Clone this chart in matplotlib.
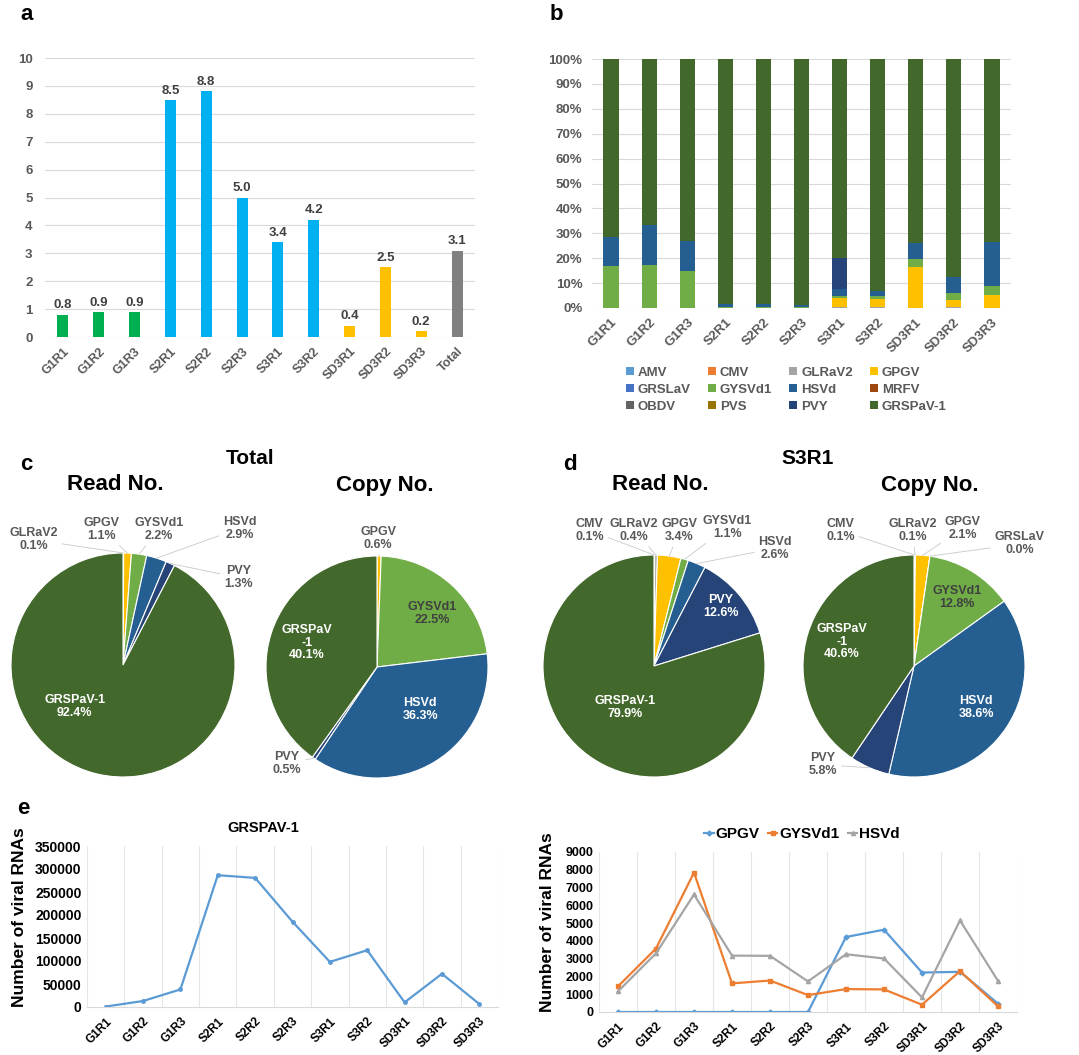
import matplotlib as mpl
mpl.use('Agg')
import numpy as np
import matplotlib.pyplot as plt

plt.rcParams['font.family'] = ['Liberation Sans', 'DejaVu Sans']
plt.rcParams['font.weight'] = 'bold'
plt.rcParams['axes.titleweight'] = 'bold'
plt.rcParams['axes.labelweight'] = 'bold'

# ---- data ----
samples = ['G1R1', 'G1R2', 'G1R3', 'S2R1', 'S2R2', 'S2R3',
           'S3R1', 'S3R2', 'SD3R1', 'SD3R2', 'SD3R3']

# (a) ratio per sample
ratio_labels = samples + ['Total']
ratio_values = [0.8, 0.9, 0.9, 8.5, 8.8, 5.0, 3.4, 4.2, 0.4, 2.5, 0.2, 3.1]

# (b) read share per virus (%)
viruses = ['AMV', 'CMV', 'GLRaV2', 'GPGV', 'GRSLaV', 'GYSVd1',
           'HSVd', 'MRFV', 'OBDV', 'PVS', 'PVY', 'GRSPaV-1']
pct_zero = [0] * 11
pct_cmv = [0, 0, 0, 0, 0, 0, 0.1, 0, 0, 0, 0]
pct_glrav2 = [0, 0, 0, 0, 0, 0, 0.4, 0.3, 0, 0.4, 0.2]
pct_gpgv = [0, 0, 0, 0, 0, 0, 3.4, 3.5, 16.5, 2.9, 5.0]
pct_gysvd1 = [17.0, 17.4, 14.7, 0.5, 0.5, 0.4, 1.1, 0.9, 3.3, 2.8, 3.5]
pct_hsvd = [11.5, 16.0, 12.2, 1.0, 1.0, 0.8, 2.6, 2.2, 6.5, 6.3, 18.0]
pct_pvy = [0, 0, 0, 0, 0, 0, 12.6, 0, 0, 0, 0]
pct_grspav = [71.5, 66.6, 73.1, 98.5, 98.5, 98.8, 79.8, 93.1, 73.7, 87.6, 73.3]

# (c) / (d) pies
total_read_names = ['GLRaV2', 'GPGV', 'GYSVd1', 'HSVd', 'PVY', 'GRSPaV-1']
total_read_pct = [0.1, 1.1, 2.2, 2.9, 1.3, 92.4]
total_copy_names = ['GPGV', 'GYSVd1', 'HSVd', 'PVY', 'GRSPaV-1']
total_copy_pct = [0.6, 22.5, 36.3, 0.5, 40.1]
s3r1_read_names = ['CMV', 'GLRaV2', 'GPGV', 'GYSVd1', 'HSVd', 'PVY', 'GRSPaV-1']
s3r1_read_pct = [0.1, 0.4, 3.4, 1.1, 2.6, 12.6, 79.9]
s3r1_copy_names = ['CMV', 'GLRaV2', 'GPGV', 'GRSLaV', 'GYSVd1', 'HSVd', 'PVY', 'GRSPaV-1']
s3r1_copy_pct = [0.1, 0.1, 2.1, 0.0, 12.8, 38.6, 5.8, 40.6]

# (e) number of viral RNAs
grspav_counts = [1000, 13000, 38200, 286500, 280700, 185400,
                 98100, 123400, 10100, 72200, 6500]
gpgv_counts = [0, 0, 0, 0, 0, 0, 4220, 4630, 2220, 2260, 470]
gysvd1_counts = [1440, 3570, 7840, 1610, 1770, 950, 1290, 1270, 410, 2300, 320]
hsvd_counts = [1160, 3300, 6610, 3170, 3160, 1720, 3250, 3010, 820, 5150, 1750]

colors = {'AMV': '#5B9BD5', 'CMV': '#ED7D31', 'GLRaV2': '#A5A5A5',
          'GPGV': '#FFC000', 'GRSLaV': '#4472C4', 'GYSVd1': '#70AD47',
          'HSVd': '#255E91', 'MRFV': '#9E480E', 'OBDV': '#636363',
          'PVS': '#997300', 'PVY': '#264478', 'GRSPaV-1': '#43682B'}

W, H = 1079, 1055
fig = plt.figure(figsize=(W / 100, H / 100), dpi=100)


def px_axes(x0, y0, x1, y1):
    return fig.add_axes([x0 / W, 1 - y1 / H, (x1 - x0) / W, (y1 - y0) / H])


def clean(ax):
    for s in ax.spines.values():
        s.set_visible(False)
    ax.tick_params(length=0)


GRID = '#D9D9D9'
TICK = '#595959'

# ---- a: bar chart ----
ax = px_axes(45, 58, 475, 337)
clean(ax)
bar_colors = ['#00B050'] * 3 + ['#00B0F0'] * 5 + ['#FFC000'] * 3 + ['#808080']
x = np.arange(len(ratio_labels))
ax.bar(x, ratio_values, width=0.31, color=bar_colors, zorder=3)
for i, v in enumerate(ratio_values):
    ax.text(i, v + 0.12, f'{v:.1f}', ha='center', va='bottom',
            fontsize=9.5, color='#404040')
ax.set_ylim(0, 10)
ax.set_xlim(-0.5, len(ratio_labels) - 0.5)
ax.set_yticks(range(11))
ax.yaxis.grid(True, color=GRID, lw=0.8)
ax.set_axisbelow(True)
ax.set_xticks(x)
ax.set_xticklabels(ratio_labels, rotation=45, ha='right', rotation_mode='anchor')
ax.tick_params(axis='y', labelsize=9.5, labelcolor=TICK, pad=9)
ax.tick_params(axis='x', labelsize=9, labelcolor=TICK, pad=6)

# ---- b: stacked percentage bars ----
ax = px_axes(592, 59, 1011, 308)
clean(ax)
series = [pct_zero, pct_cmv, pct_glrav2, pct_gpgv, pct_zero, pct_gysvd1,
          pct_hsvd, pct_zero, pct_zero, pct_zero, pct_pvy, pct_grspav]
xb = np.arange(len(samples))
bottom = np.zeros(len(samples))
handles = []
for name, vals in zip(viruses, series):
    h = ax.bar(xb, vals, bottom=bottom, width=0.4, color=colors[name],
               label=name, zorder=3)
    handles.append(h)
    bottom += np.array(vals)
ax.set_ylim(0, 100)
ax.set_xlim(-0.5, len(samples) - 0.5)
ax.set_yticks(range(0, 101, 10))
ax.set_yticklabels([f'{t}%' for t in range(0, 101, 10)])
ax.yaxis.grid(True, color=GRID, lw=0.8)
ax.set_axisbelow(True)
ax.set_xticks(xb)
ax.set_xticklabels(samples, rotation=45, ha='right', rotation_mode='anchor')
ax.tick_params(axis='y', labelsize=9.5, labelcolor=TICK, pad=7)
ax.tick_params(axis='x', labelsize=9.5, labelcolor=TICK, pad=6)
order = [0, 4, 8, 1, 5, 9, 2, 6, 10, 3, 7, 11]
fig.legend([handles[i] for i in order], [viruses[i] for i in order],
           ncol=4, frameon=False, loc='upper left',
           bbox_to_anchor=(614 / W, 1 - 355 / H), fontsize=9.5,
           handlelength=0.6, handleheight=0.6, handletextpad=0.3,
           columnspacing=1.3, labelspacing=0.38, labelcolor=TICK)


# ---- c / d: pies ----
def draw_pie(cx, cy, r, names, pct, spots, wrap=False):
    ax = px_axes(cx - r, cy - r, cx + r, cy + r)
    wedges, _ = ax.pie(pct, colors=[colors[n] for n in names], startangle=90,
                       counterclock=False,
                       wedgeprops=dict(edgecolor='white', linewidth=0.8))
    ax.set_xlim(-1, 1)
    ax.set_ylim(-1, 1)
    ax.axis('off')
    for w, n, p, (dx, dy, kind) in zip(wedges, names, pct, spots):
        label = n
        if wrap and n == 'GRSPaV-1':
            label = 'GRSPaV\n-1'
        label = f'{label}\n{p:.1f}%'
        if kind == 'out':
            ang = np.deg2rad((w.theta1 + w.theta2) / 2)
            ax.annotate(label, xy=(np.cos(ang), np.sin(ang)), xytext=(dx, dy),
                        ha='center', va='center', fontsize=9, color=TICK,
                        linespacing=1.1, annotation_clip=False,
                        arrowprops=dict(arrowstyle='-', color='#C8C8C8',
                                        lw=0.6, shrinkA=1, shrinkB=0))
        else:
            ax.text(dx, dy, label, ha='center', va='center', fontsize=9,
                    color=kind, linespacing=1.1)


draw_pie(123, 665, 112, total_read_names, total_read_pct,
         [(-0.80, 1.12, 'out'), (-0.19, 1.21, 'out'), (0.32, 1.21, 'out'),
          (1.04, 1.22, 'out'), (1.03, 0.78, 'out'), (-0.43, -0.37, 'white')])
draw_pie(377, 667, 111, total_copy_names, total_copy_pct,
         [(0.01, 1.16, 'out'), (0.50, 0.48, '#404040'), (0.39, -0.38, 'white'),
          (-0.81, -0.87, 'out'), (-0.63, 0.22, 'white')], wrap=True)
draw_pie(654, 666, 111, s3r1_read_names, s3r1_read_pct,
         [(-0.58, 1.22, 'out'), (-0.18, 1.22, 'out'), (0.23, 1.22, 'out'),
          (0.66, 1.25, 'out'), (1.09, 1.06, 'out'), (0.60, 0.54, 'white'),
          (-0.26, -0.37, 'white')])
draw_pie(914, 666, 111, s3r1_copy_names, s3r1_copy_pct,
         [(-0.66, 1.22, 'out'), (-0.01, 1.22, 'out'), (0.44, 1.24, 'out'),
          (0.95, 1.10, 'out'), (0.39, 0.62, '#404040'), (0.56, -0.37, 'white'),
          (-0.82, -0.89, 'out'), (-0.65, 0.22, 'white')], wrap=True)

for txt, (px, py), size in [('Total', (250, 459), 15), ('Read No.', (115, 485), 16),
                            ('Copy No.', (385, 485), 16), ('S3R1', (808, 459), 15),
                            ('Read No.', (660, 485), 16), ('Copy No.', (930, 485), 16)]:
    fig.text(px / W, 1 - py / H, txt, ha='center', va='center', fontsize=size)


# ---- e: line charts ----
def line_axes(x0, y0, x1, y1, ymax, step, label_x):
    ax = px_axes(x0, y0, x1, y1)
    for s in ax.spines.values():
        s.set_visible(False)
    ax.spines['bottom'].set_visible(True)
    ax.spines['bottom'].set_color(GRID)
    ax.tick_params(length=0, which='both')
    ax.set_xlim(-0.5, len(samples) - 0.5)
    ax.set_ylim(0, ymax)
    ax.set_yticks(np.arange(0, ymax + 1, step))
    ax.set_xticks(np.arange(len(samples)))
    ax.set_xticks(np.arange(-0.5, len(samples), 1), minor=True)
    ax.xaxis.grid(True, which='minor', color='#E6E6E6', lw=0.8)
    ax.set_xticklabels(samples, rotation=45, ha='right', rotation_mode='anchor')
    ax.tick_params(axis='x', labelsize=8.5, pad=6)
    ax.tick_params(axis='y', labelsize=9, pad=4)
    ax.set_ylabel('Number of viral RNAs', fontsize=12.5)
    ax.yaxis.set_label_coords((label_x - x0) / (x1 - x0), 0.56)
    return ax


xe = np.arange(len(samples))
ax = line_axes(87, 846, 498, 1007, 350000, 50000, 27)
ax.tick_params(axis='y', labelsize=10)
ax.plot(xe, grspav_counts, color='#5B9BD5', lw=1.6, marker='o', ms=2.5)
ax.set_title('GRSPAV-1', fontsize=10.5, pad=10, x=0.43)

ax = line_axes(599, 852, 1017, 1012, 9000, 1000, 555)
ax.plot(xe, gpgv_counts, color='#5B9BD5', lw=1.6, marker='D', ms=2.5, label='GPGV')
ax.plot(xe, gysvd1_counts, color='#ED7D31', lw=1.6, marker='s', ms=3, label='GYSVd1')
ax.plot(xe, hsvd_counts, color='#A5A5A5', lw=1.6, marker='^', ms=3, label='HSVd')
ax.legend(loc='lower center', bbox_to_anchor=((802 - 599) / 418, 1.0), ncol=3,
          frameon=False, fontsize=11, handlelength=0.6, handletextpad=0.1,
          columnspacing=0.6, borderpad=0.2)

# panel letters
for letter, (px, py) in [('a', (20, 15)), ('b', (550, 15)), ('c', (20, 465)),
                         ('d', (563, 465)), ('e', (17, 808))]:
    fig.text(px / W, 1 - py / H, letter, ha='left', va='center', fontsize=16)

fig.savefig('out.png', dpi=100)
